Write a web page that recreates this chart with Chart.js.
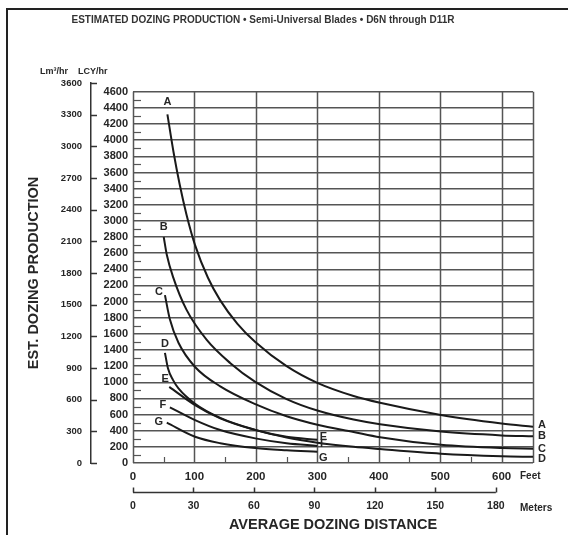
<!DOCTYPE html>
<html lang="en">
<head>
<meta charset="UTF-8">
<title>Estimated Dozing Production</title>
<script src="https://cdn.jsdelivr.net/npm/chart.js"></script>
<style>
  body { margin: 0; background: #fff; }
  .wrap { position: relative; width: 568px; height: 535px; overflow: hidden; }
  .wrap canvas { position: absolute; left: 0; top: 0; }
  .frame {
    position: absolute; left: 6px; top: 8px; right: 0; bottom: 0;
    border-top: 2px solid #222; border-left: 2px solid #222;
    pointer-events: none;
  }
</style>
</head>
<body>
<div class="wrap">
  <canvas id="dozeChart" width="568" height="535"></canvas>
  <div class="frame"></div>
</div>
<script>
  // curve data: distance in feet, production in LCY/hr
  const curveNames = ['A', 'B', 'C', 'D', 'E', 'F', 'G'];
  const distA = [56, 66, 76, 87, 101, 122, 142, 170, 199, 250, 300, 359, 402, 501, 600, 651];
  const prodA = [4320, 3850, 3450, 3080, 2700, 2295, 2015, 1725, 1500, 1200, 993, 830, 746, 595, 490, 449];
  const distB = [50, 55, 65, 87, 120, 158, 199, 250, 300, 359, 402, 501, 600, 651];
  const prodB = [2800, 2580, 2310, 1900, 1525, 1240, 1005, 792, 650, 538, 480, 389, 342, 330];
  const distC = [52, 60, 74, 101, 142, 199, 250, 300, 359, 402, 501, 600, 651];
  const prodC = [2080, 1780, 1490, 1190, 950, 730, 580, 475, 385, 320, 225, 185, 178];
  const distD = [52, 57, 65, 74, 101, 142, 199, 250, 300, 359, 402, 501, 600, 651];
  const prodD = [1365, 1170, 1030, 925, 735, 560, 410, 315, 252, 200, 172, 115, 84, 76];
  const distE = [59, 101, 142, 199, 250, 300];
  const prodE = [943, 717, 552, 408, 325, 288];
  const distF = [60, 101, 142, 199, 250, 300];
  const prodF = [690, 532, 408, 305, 245, 212];
  const distG = [55, 101, 142, 199, 250, 300];
  const prodG = [500, 325, 245, 185, 158, 140];

  // axis ticks
  const feetTicks = [0, 100, 200, 300, 400, 500, 600];
  const feetMinor = [50, 150, 250, 350, 450, 550];
  const meterTicks = [0, 30, 60, 90, 120, 150, 180];
  const lcyTicks = [0, 200, 400, 600, 800, 1000, 1200, 1400, 1600, 1800, 2000, 2200, 2400,
                    2600, 2800, 3000, 3200, 3400, 3600, 3800, 4000, 4200, 4400, 4600];
  const lcyMinor = [100, 300, 500, 700, 900, 1100, 1300, 1500, 1700, 1900, 2100, 2300, 2500,
                    2700, 2900, 3100, 3300, 3500, 3700, 3900, 4100, 4300, 4500];
  const lmTicks = [0, 300, 600, 900, 1200, 1500, 1800, 2100, 2400, 2700, 3000, 3300, 3600];

  const FT_MAX = 651;
  const FT_PER_M = 3.28084;
  const LCY_PER_LM = 1.30795;
  const LM_MAX = 3600;
  const LCY_TOP = 4600;

  const INK = '#262626';
  const GRID = '#555';
  const FONT = '"Liberation Sans", Arial, Helvetica, sans-serif';
  Chart.defaults.font.family = FONT;
  Chart.defaults.color = INK;

  const chartTitle = 'ESTIMATED DOZING PRODUCTION \u2022 Semi-Universal Blades \u2022 D6N through D11R';

  const series = [
    [distA, prodA], [distB, prodB], [distC, prodC], [distD, prodD],
    [distE, prodE], [distF, prodF], [distG, prodG]
  ];

  // letter offsets next to curve start / end
  const startOffset = { A: [0, -12], B: [0, -10], C: [-6, -3], D: [0, -9], E: [-4, -8], F: [-7, -2], G: [-8, -1] };
  const endOffset = { A: [9, -2], B: [9, 0], C: [9, 0], D: [9, 2], E: [6, -3], F: [6, -2], G: [6, 6] };

  function setTicks(values) {
    return axis => { axis.ticks = values.map(v => ({ value: v })); };
  }
  const plain = v => String(v);

  function line(ctx, x1, y1, x2, y2) {
    ctx.beginPath();
    ctx.moveTo(x1, y1);
    ctx.lineTo(x2, y2);
    ctx.stroke();
  }

  const chartDecor = {
    id: 'chartDecor',
    beforeDatasetsDraw(chart) {
      const { ctx, scales: { x, y } } = chart;
      const top = y.getPixelForValue(LCY_TOP);
      const bottom = y.getPixelForValue(0);
      ctx.save();
      ctx.strokeStyle = GRID;
      ctx.lineWidth = 1.5;
      feetTicks.concat([FT_MAX]).forEach(v => {
        const px = Math.round(x.getPixelForValue(v)) + 0.5;
        line(ctx, px, top, px, bottom);
      });
      ctx.lineWidth = 1.2;
      lcyMinor.forEach(v => {
        const py = Math.round(y.getPixelForValue(v)) + 0.5;
        line(ctx, x.left, py, x.left + 8, py);
      });
      feetMinor.forEach(v => {
        const px = Math.round(x.getPixelForValue(v)) + 0.5;
        line(ctx, px, bottom, px, bottom - 6);
      });
      ctx.restore();
    },
    afterDraw(chart) {
      const { ctx, scales: { x, x2, y, y2 } } = chart;
      ctx.save();
      ctx.strokeStyle = '#333';
      ctx.lineWidth = 1.5;
      // Lm3 axis ticks to the right of its line
      const axisX = y2.right;
      lmTicks.forEach(v => {
        const py = Math.round(y2.getPixelForValue(v)) + 0.5;
        line(ctx, axisX, py, axisX + 6, py);
      });
      // meters ruler
      const rulerY = 492.5;
      line(ctx, x2.getPixelForValue(0), rulerY, x2.getPixelForValue(180), rulerY);
      meterTicks.forEach(v => {
        const px = Math.round(x2.getPixelForValue(v)) + 0.5;
        line(ctx, px, rulerY, px, rulerY - 5);
      });

      ctx.fillStyle = '#333';
      ctx.textBaseline = 'middle';
      ctx.textAlign = 'center';
      ctx.font = 'bold 10px ' + FONT;
      ctx.fillText(chartTitle, 263, 20);

      ctx.fillStyle = INK;
      ctx.font = 'bold 9px ' + FONT;
      ctx.textAlign = 'left';
      ctx.fillText('Lm\u00B3/hr', 40, 72);
      ctx.fillText('LCY/hr', 78, 72);
      ctx.font = 'bold 10px ' + FONT;
      ctx.fillText('Feet', x.right - 13, 476);
      ctx.fillText('Meters', x.right - 13, 508);

      // curve letters
      ctx.font = 'bold 11px ' + FONT;
      ctx.textAlign = 'center';
      chart.data.datasets.forEach(ds => {
        const first = ds.data[0];
        const last = ds.data[ds.data.length - 1];
        const so = startOffset[ds.label];
        const eo = endOffset[ds.label];
        ctx.fillText(ds.label, x.getPixelForValue(first.x) + so[0], y.getPixelForValue(first.y) + so[1]);
        ctx.fillText(ds.label, x.getPixelForValue(last.x) + eo[0], y.getPixelForValue(last.y) + eo[1]);
      });
      ctx.restore();
    }
  };

  const datasets = series.map((s, i) => ({
    label: curveNames[i],
    data: s[0].map((d, j) => ({ x: d, y: s[1][j] })),
    borderColor: '#1a1a1a',
    borderWidth: 2,
    pointRadius: 0,
    fill: false,
    cubicInterpolationMode: 'monotone',
    xAxisID: 'x',
    yAxisID: 'y'
  }));

  new Chart(document.getElementById('dozeChart'), {
    type: 'line',
    data: { datasets: datasets },
    plugins: [chartDecor],
    options: {
      responsive: false,
      animation: false,
      events: [],
      layout: { padding: { top: 83, left: 8, right: 35, bottom: 0 } },
      plugins: {
        legend: { display: false },
        tooltip: { enabled: false },
        title: { display: false }
      },
      scales: {
        x: {
          type: 'linear', position: 'bottom', weight: 0,
          min: 0, max: FT_MAX,
          afterBuildTicks: setTicks(feetTicks),
          afterFit: a => { a.height = 22; },
          grid: { display: false, drawTicks: false },
          border: { display: false },
          ticks: { padding: 7, autoSkip: false, maxRotation: 0, callback: plain, font: { size: 11.5, weight: 'bold' } }
        },
        x2: {
          type: 'linear', position: 'bottom', weight: 1,
          min: 0, max: FT_MAX / FT_PER_M,
          afterBuildTicks: setTicks(meterTicks),
          afterFit: a => { a.height = 50; },
          grid: { display: false, drawTicks: false },
          border: { display: false },
          ticks: { padding: 15, autoSkip: false, maxRotation: 0, callback: plain, font: { size: 10.5, weight: 'bold' } },
          title: {
            display: true, text: 'AVERAGE DOZING DISTANCE',
            font: { size: 14.5, weight: 'bold' },
            padding: { top: 0, bottom: 1 }
          }
        },
        y: {
          type: 'linear', position: 'left', weight: 0,
          min: 0, max: LM_MAX * LCY_PER_LM,
          afterBuildTicks: setTicks(lcyTicks),
          afterFit: a => { a.width = 42; },
          grid: { color: GRID, lineWidth: 1.5, drawTicks: false },
          border: { display: false },
          ticks: { padding: 5, autoSkip: false, callback: plain, font: { size: 11, weight: 'bold' } }
        },
        y2: {
          type: 'linear', position: 'left', weight: 1,
          min: 0, max: LM_MAX,
          afterBuildTicks: setTicks(lmTicks),
          afterFit: a => { a.width = 83; },
          grid: { drawOnChartArea: false, drawTicks: false, color: 'rgba(0,0,0,0)' },
          border: { display: true, color: '#333', width: 1.5 },
          ticks: { padding: 9, autoSkip: false, callback: plain, font: { size: 9.5, weight: 'bold' } },
          title: {
            display: true, text: 'EST. DOZING PRODUCTION',
            font: { size: 14.5, weight: 'bold' },
            padding: { top: 17 }
          }
        }
      }
    }
  });
</script>
</body>
</html>
